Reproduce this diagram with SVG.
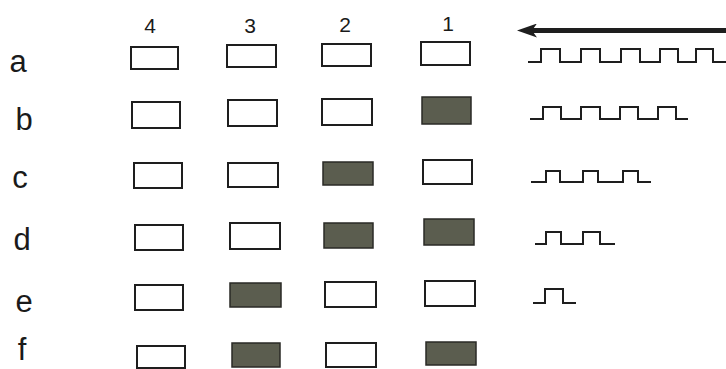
<svg xmlns="http://www.w3.org/2000/svg" width="726" height="369" viewBox="0 0 726 369">
<style>
.lbl{font-family:"Liberation Sans",Arial,sans-serif;fill:#1a1a1a;text-anchor:middle}
.row{font-size:31px}
.col{font-size:21px}
.box{fill:#ffffff;stroke:#1e1e1e;stroke-width:2}
.on{fill:#5b5d4f;stroke:#2a2a26;stroke-width:1.5}
.wave{fill:none;stroke:#1e1e1e;stroke-width:2;stroke-linejoin:miter}
</style>
<defs>
<marker id="ah" viewBox="0 0 20 14" refX="6" refY="7" markerWidth="20" markerHeight="14" markerUnits="userSpaceOnUse" orient="auto">
<path d="M0,0 L20,7 L0,14 L5,7 Z" fill="#1e1e1e"/>
</marker>
</defs>
<rect width="726" height="369" fill="#ffffff"/>
<g id="col-labels">
<text class="lbl col" x="150" y="33">4</text>
<text class="lbl col" x="250" y="33">3</text>
<text class="lbl col" x="345" y="32">2</text>
<text class="lbl col" x="448" y="31">1</text>
</g>
<g id="row-labels">
<text class="lbl row" x="18" y="72">a</text>
<text class="lbl row" x="24" y="130">b</text>
<text class="lbl row" x="20" y="188">c</text>
<text class="lbl row" x="22" y="250">d</text>
<text class="lbl row" x="24" y="312">e</text>
<text class="lbl row" x="22" y="360">f</text>
</g>
<g id="row-a">
<rect class="box" x="131" y="47" width="47" height="22"/>
<rect class="box" x="227" y="45" width="49" height="22"/>
<rect class="box" x="322" y="44" width="49" height="22"/>
<rect class="box" x="421" y="42" width="49" height="23"/>
</g>
<g id="row-b">
<rect class="box" x="132" y="102" width="48" height="26"/>
<rect class="box" x="228" y="100" width="49" height="26"/>
<rect class="box" x="322" y="99" width="50" height="26"/>
<rect class="on" x="422" y="97" width="49" height="27"/>
</g>
<g id="row-c">
<rect class="box" x="134" y="163" width="48" height="25"/>
<rect class="box" x="228" y="163" width="50" height="24"/>
<rect class="on" x="323" y="162" width="50" height="23"/>
<rect class="box" x="423" y="160" width="49" height="24"/>
</g>
<g id="row-d">
<rect class="box" x="135" y="225" width="48" height="25"/>
<rect class="box" x="230" y="223" width="50" height="26"/>
<rect class="on" x="324" y="223" width="49" height="25"/>
<rect class="on" x="424" y="219" width="50" height="26"/>
</g>
<g id="row-e">
<rect class="box" x="135" y="285" width="48" height="25"/>
<rect class="on" x="230" y="283" width="51" height="24"/>
<rect class="box" x="325" y="282" width="51" height="25"/>
<rect class="box" x="425" y="281" width="50" height="25"/>
</g>
<g id="row-f">
<rect class="box" x="137" y="346" width="48" height="22"/>
<rect class="on" x="232" y="343" width="48" height="24"/>
<rect class="box" x="326" y="343" width="50" height="24"/>
<rect class="on" x="426" y="342" width="50" height="23"/>
</g>
<g id="connectors">
<line x1="726" y1="30.5" x2="531" y2="30.5" stroke="#1e1e1e" stroke-width="5" marker-end="url(#ah)"/>
<polyline class="wave" points="528,62 541,62 541,49 560,49 560,62 581,62 581,49 600,49 600,62 621,62 621,49 640,49 640,62 660,62 660,49 678,49 678,62 696,62 696,49 713,49 713,62 726,62"/>
<polyline class="wave" points="530,119 543,119 543,107 561,107 561,119 581,119 581,107 600,107 600,119 620,119 620,107 638,107 638,119 658,119 658,107 676,107 676,119 688,119"/>
<polyline class="wave" points="531,182 546,182 546,171 560,171 560,182 583,182 583,171 598,171 598,182 623,182 623,171 638,171 638,182 651,182"/>
<polyline class="wave" points="535,244 546,244 546,232 561,232 561,244 583,244 583,232 600,232 600,244 615,244"/>
<polyline class="wave" points="533,303 545,303 545,289 563,289 563,303 576,303"/>
</g>
</svg>
